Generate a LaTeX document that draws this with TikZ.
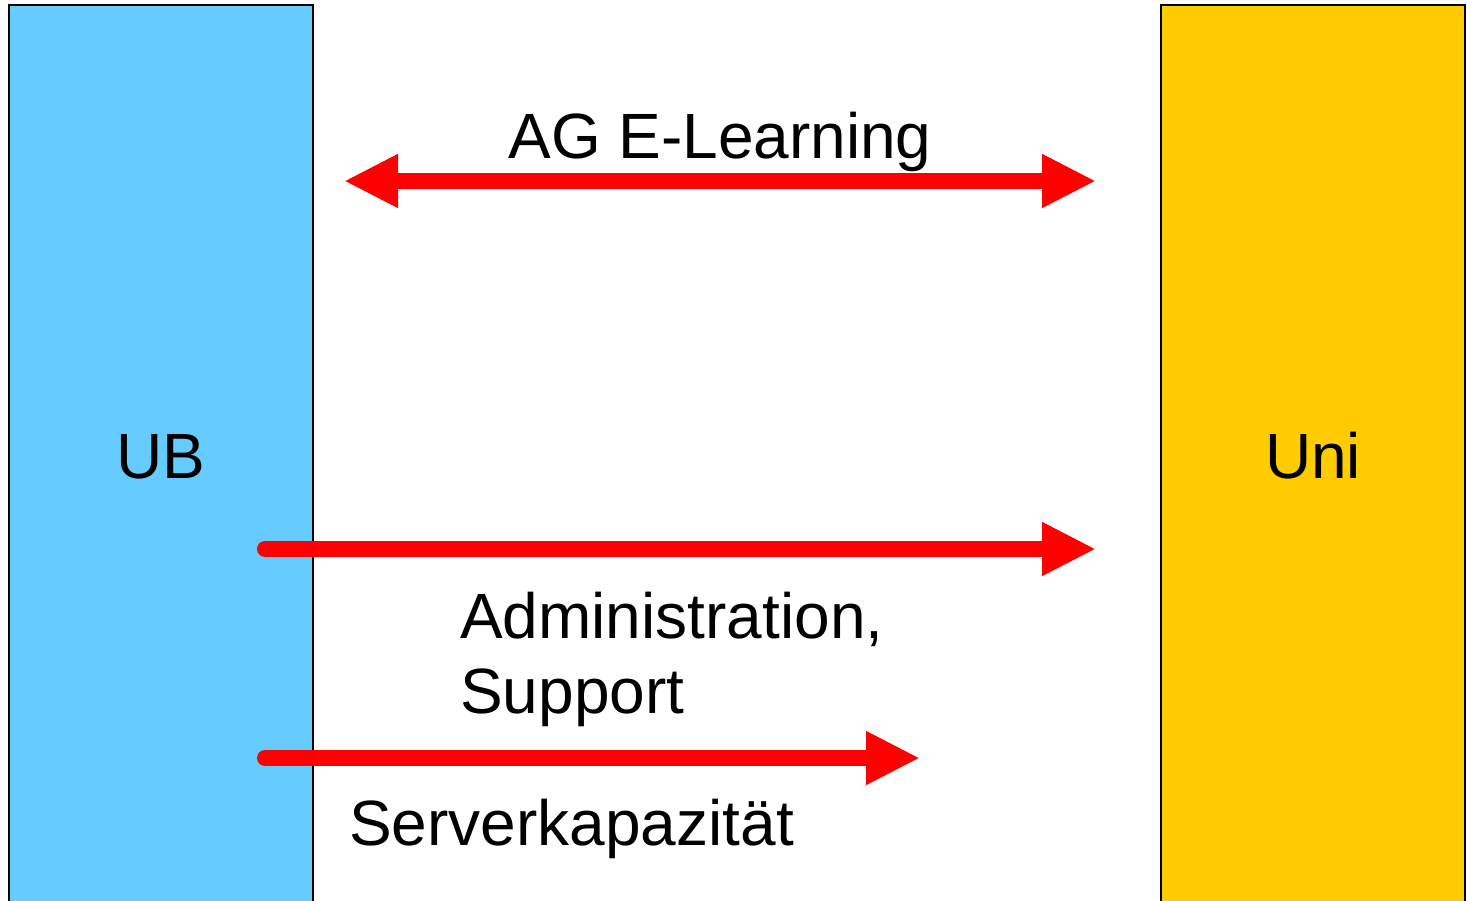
\documentclass[tikz,border=0pt]{standalone}
\usepackage{fontspec}
\setmainfont{Liberation Sans}
\usetikzlibrary{arrows.meta}
\definecolor{ubblue}{HTML}{66CCFF}
\definecolor{uniyellow}{HTML}{FFCC00}
\definecolor{arrred}{HTML}{FF0000}
\begin{document}
\begin{tikzpicture}[x=1pt,y=-1pt,
  pillar/.style={draw=black,line width=1.5pt},
  flow/.style={draw=arrred,line width=16pt,line cap=round,-{Triangle[length=54pt,width=50pt]}},
  flowboth/.style={draw=arrred,line width=16pt,{Triangle[length=54pt,width=50pt]}-{Triangle[length=54pt,width=50pt]}},
  lbl/.style={font=\fontsize{64}{75}\selectfont,inner sep=0pt,anchor=base west}]
\useasboundingbox (0,0) rectangle (1467,900);
\begin{scope}
\clip (0,0) rectangle (1467,900);
\fill[ubblue] (9,5) rectangle (313,910);
\draw[pillar] (9,910) -- (9,5) -- (313,5) -- (313,910);
\fill[uniyellow] (1161,5) rectangle (1465,910);
\draw[pillar] (1161,910) -- (1161,5) -- (1465,5) -- (1465,910);
\end{scope}
\node[inner sep=0pt,anchor=base,font=\fontsize{64}{75}\selectfont] (ub) at (161,478) {UB};
\node[inner sep=0pt,anchor=base,font=\fontsize{64}{75}\selectfont] (uni) at (1313,478) {Uni};
\coordinate (a1s) at (344,181);
\coordinate (a1e) at (1096,181);
\coordinate (a2s) at (265,549);
\coordinate (a2e) at (1096,549);
\coordinate (a3s) at (265,758);
\coordinate (a3e) at (920,758);
\draw[flowboth] (a1s) -- (a1e);
\draw[flow] (a2s) -- (a2e);
\draw[flow] (a3s) -- (a3e);
\node[inner sep=0pt,anchor=base,font=\fontsize{64}{75}\selectfont] (ag) at (720,158) {AG E-Learning};
\node[lbl] (adm) at (460,638) {Administration,};
\node[lbl] (sup) at (460,713) {Support};
\node[lbl] (srv) at (349,845) {Serverkapazität};
\end{tikzpicture}
\end{document}
